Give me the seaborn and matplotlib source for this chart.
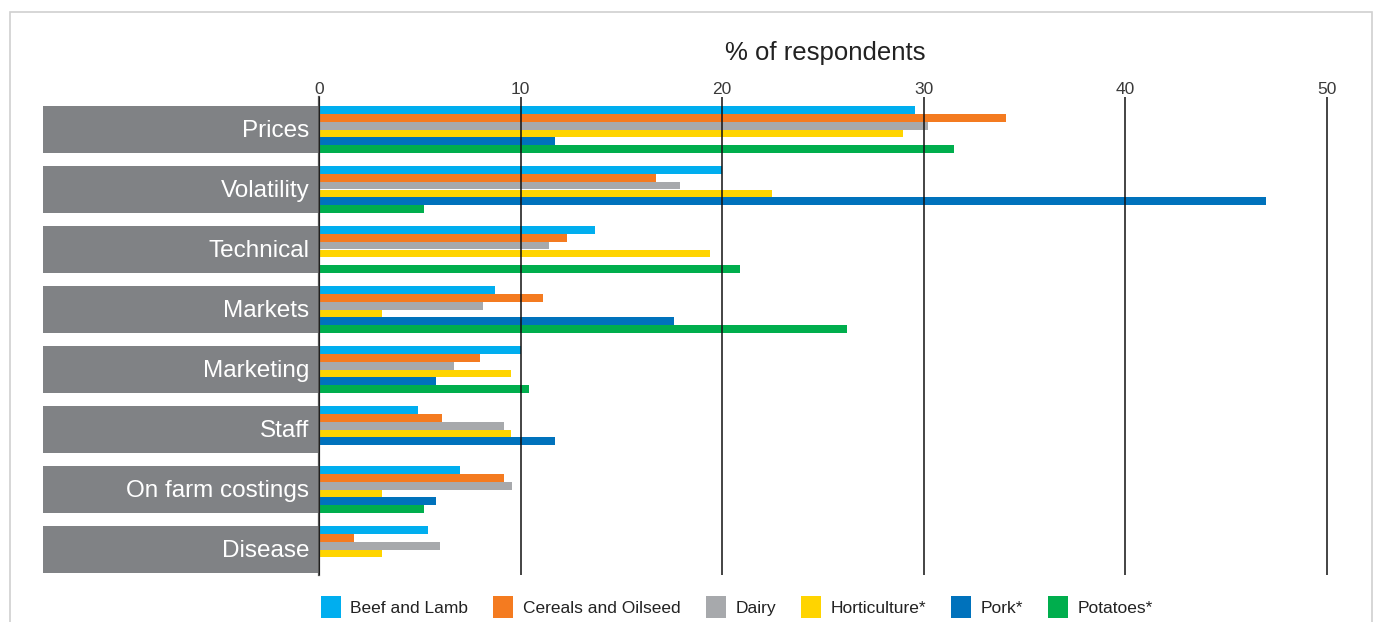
import matplotlib
matplotlib.use("Agg")
import matplotlib.pyplot as plt
import seaborn as sns
import pandas as pd
import numpy as np
from matplotlib.patches import Rectangle

# Survey results: share of respondents naming each issue, by sector
categories = ["Prices", "Volatility", "Technical", "Markets",
              "Marketing", "Staff", "On farm costings", "Disease"]
sectors = ["Beef and Lamb", "Cereals and Oilseed", "Dairy",
           "Horticulture*", "Pork*", "Potatoes*"]

beef_lamb = [29.6, 20.0, 13.7, 8.75, 10.0, 4.9, 7.0, 5.4]
cereals_oilseed = [34.1, 16.7, 12.3, 11.1, 8.0, 6.1, 9.2, 1.75]
dairy = [30.2, 17.9, 11.4, 8.15, 6.7, 9.2, 9.6, 6.0]
horticulture = [29.0, 22.5, 19.4, 3.15, 9.55, 9.55, 3.15, 3.15]
pork = [11.7, 47.0, np.nan, 17.6, 5.8, 11.7, 5.8, np.nan]
potatoes = [31.5, 5.2, 20.9, 26.2, 10.4, np.nan, 5.2, np.nan]

x_ticks = [0, 10, 20, 30, 40, 50]

colors = ["#00AEEF", "#F47B20", "#A7A9AC", "#FFD400", "#0072BC", "#00AE4D"]

series = [beef_lamb, cereals_oilseed, dairy, horticulture, pork, potatoes]
rows = []
for name, vals in zip(sectors, series):
    for cat, v in zip(categories, vals):
        if not np.isnan(v):
            rows.append({"Issue": cat, "Sector": name, "Percent": v})
df = pd.DataFrame(rows)

sns.set_theme(style="white")
plt.rcParams["font.family"] = ["Liberation Sans", "DejaVu Sans"]

W, H = 1385, 622
fig = plt.figure(figsize=(W / 100, H / 100), dpi=100)

# outer frame
fig.add_artist(Rectangle((10 / W, -0.05), (1372 - 10) / W, 1.05 - 12 / H,
                         transform=fig.transFigure, fill=False,
                         edgecolor="#d0d0d0", linewidth=1.2))

# geometry in pixels
x0_px, unit_px = 319, 20.15
xmax = 50.2
top_px, bot_px = 97, 575
first_center, pitch = 129.5, 60.0
y_top = (top_px - first_center) / pitch
y_bot = (bot_px - first_center) / pitch

ax = fig.add_axes([x0_px / W, 1 - bot_px / H,
                   xmax * unit_px / W, (bot_px - top_px) / H])

sns.barplot(data=df, y="Issue", x="Percent", hue="Sector",
            order=categories, hue_order=sectors, palette=colors,
            orient="h", width=0.78, errorbar=None, dodge=True,
            saturation=1, linewidth=0, ax=ax, legend=False)

ax.set_xlim(0, xmax)
ax.set_ylim(y_bot, y_top)
ax.set_xticks(x_ticks)
ax.xaxis.tick_top()
ax.xaxis.set_label_position("top")
ax.tick_params(axis="x", length=0, pad=0, labelsize=12.5, labelcolor="#3a3a3a")
ax.set_xlabel("% of respondents", fontsize=18.5, color="#222222", labelpad=15.5)
ax.set_ylabel("")
ax.set_yticks([])
for s in ["top", "right", "bottom"]:
    ax.spines[s].set_visible(False)
ax.spines["left"].set_color("#555555")
ax.spines["left"].set_linewidth(1.6)
ax.grid(axis="x", color="#111111", linewidth=1.1)
ax.grid(axis="y", visible=False)
ax.set_axisbelow(False)

# category label boxes
lab_ax = fig.add_axes([43 / W, 1 - bot_px / H, (318 - 43) / W,
                       (bot_px - top_px) / H])
lab_ax.barh(np.arange(len(categories)), [1] * len(categories), height=0.78,
            color="#808285", linewidth=0)
lab_ax.set_xlim(0, 1)
lab_ax.set_ylim(y_bot, y_top)
lab_ax.axis("off")
for i, cat in enumerate(categories):
    lab_ax.text(0.968, i + 0.02, cat, ha="right", va="center",
                color="white", fontsize=17.5)

# legend
handles = [Rectangle((0, 0), 1, 1, facecolor=c, edgecolor="none") for c in colors]
fig.legend(handles, sectors, loc="center", bbox_to_anchor=(737 / W, 1 - 607 / H),
           ncol=6, frameon=False, fontsize=12.5, handlelength=1.15,
           handleheight=1.5, handletextpad=0.55, columnspacing=1.45,
           labelcolor="#222222")

fig.savefig("out.png", dpi=100)
